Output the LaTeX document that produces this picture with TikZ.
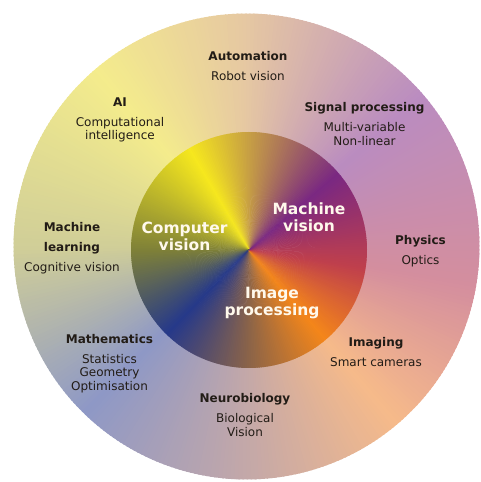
\documentclass[tikz,border=0pt]{standalone}
\usepackage{fontspec}
\setmainfont{DejaVu Sans}
% inner disc colours
\definecolor{inpurple}{HTML}{7A2882}
\definecolor{inyellow}{HTML}{F6E81E}
\definecolor{inolive}{HTML}{7E8038}
\definecolor{inblue}{HTML}{26398A}
\definecolor{inbrown}{HTML}{8C6448}
\definecolor{inorange}{HTML}{F4861A}
\definecolor{inred}{HTML}{C0404C}
% outer ring colours
\definecolor{outpurple}{HTML}{BA8CC0}
\definecolor{outtan}{HTML}{E6C8A2}
\definecolor{outyellow}{HTML}{F4EC8C}
\definecolor{outolive}{HTML}{D0CE98}
\definecolor{outblue}{HTML}{8E98C6}
\definecolor{outgrey}{HTML}{C4A8A8}
\definecolor{outpeach}{HTML}{F6BA8A}
\definecolor{outpink}{HTML}{D48E9E}
\definecolor{labeltext}{HTML}{221C16}
\definecolor{discText}{HTML}{FFF9EC}
\begin{document}
\begin{tikzpicture}[x=1pt,y=1pt,line join=round,line cap=round,
    field/.style={align=center,text=labeltext,font=\fontsize{12}{13.5}\selectfont},
    core/.style={align=center,text=discText,font=\fontsize{15.5}{17}\selectfont\bfseries}]
  \useasboundingbox (0,0) rectangle (481,482);
  \coordinate (outer) at (246.5,235.5);
  \coordinate (inner) at (249,232);

  % outer ring, conic blend
  \foreach \a/\b/\ca/\cb in {40/90/outpurple/outtan,90/130/outtan/outyellow,130/180/outyellow/outolive,
      180/225/outolive/outblue,225/270/outblue/outgrey,270/310/outgrey/outpeach,310/350/outpeach/outpink,350/400/outpink/outpurple}{
    \pgfmathtruncatemacro\n{\b-\a-1}
    \foreach \k in {0,...,\n}{
      \pgfmathsetmacro\p{100*\k/(\b-\a)}
      \fill[\cb!\p!\ca] (outer) -- ++({\a+\k}:233) arc[start angle=\a+\k,delta angle=1.4,radius=233] -- cycle;
    }
  }

  % inner disc
  \foreach \a/\b/\ca/\cb in {40/120/inpurple/inyellow,120/180/inyellow/inolive,180/225/inolive/inblue,
      225/270/inblue/inbrown,270/310/inbrown/inorange,310/350/inorange/inred,350/400/inred/inpurple}{
    \pgfmathtruncatemacro\n{\b-\a-1}
    \foreach \k in {0,...,\n}{
      \pgfmathsetmacro\p{100*\k/(\b-\a)}
      \fill[\cb!\p!\ca] (inner) -- ++({\a+\k}:118) arc[start angle=\a+\k,delta angle=1.4,radius=118] -- cycle;
    }
  }

  \node[core] (computer) at (184.5,245.5) {Computer\\vision};
  \node[core] (machine) at (309,264.5) {Machine\\vision};
  \node[core] (image) at (272,178.5) {Image\\processing};

  \node[field] (automation) at (248,416) {\textbf{Automation}\\[6.5pt]Robot vision};
  \node[field] (ai) at (120,362) {\textbf{AI}\\[6.5pt]Computational\\intelligence};
  \node[field] (signal) at (364.5,358) {\textbf{Signal processing}\\[6.5pt]Multi-variable\\Non-linear};
  \node[field] (learning) at (72,234) {\textbf{Machine}\\[6.5pt]\textbf{learning}\\[6.5pt]Cognitive vision};
  \node[field] (physics) at (420.5,231) {\textbf{Physics}\\[6.5pt]Optics};
  \node[field] (maths) at (109.5,118.5) {\textbf{Mathematics}\\[6.5pt]Statistics\\Geometry\\Optimisation};
  \node[field] (imaging) at (376,130) {\textbf{Imaging}\\[6.5pt]Smart cameras};
  \node[field] (neuro) at (245,67) {\textbf{Neurobiology}\\[6.5pt]Biological\\Vision};
\end{tikzpicture}
\end{document}
